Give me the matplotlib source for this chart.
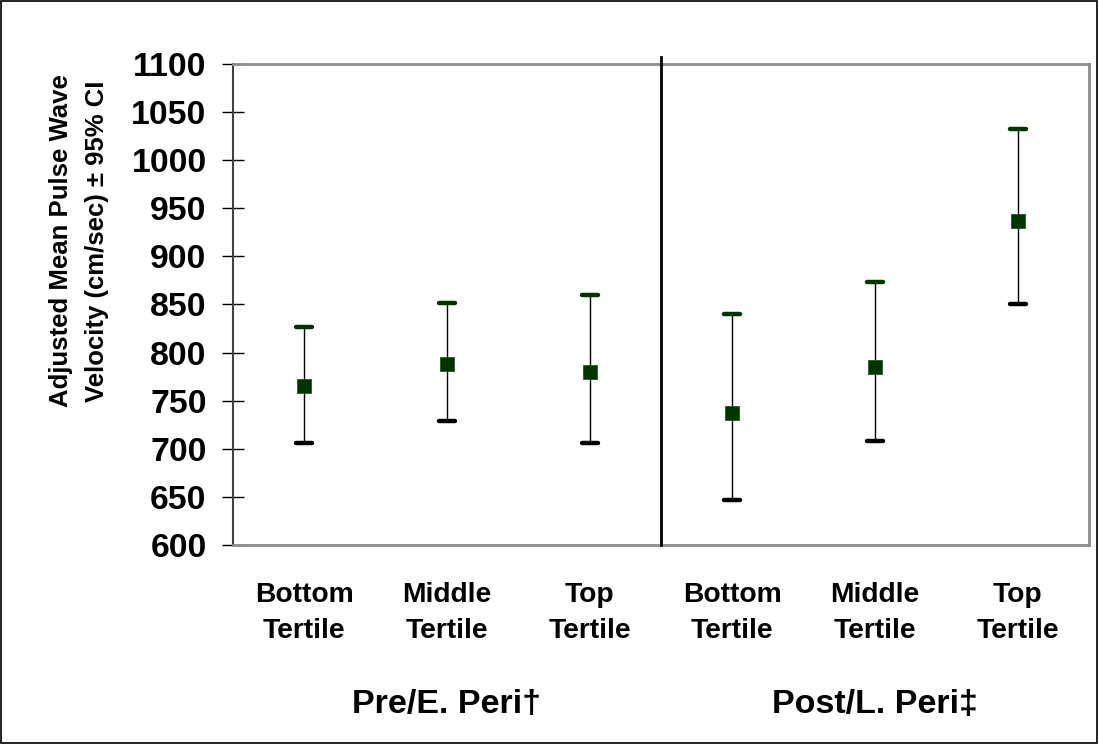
import matplotlib
matplotlib.use("Agg")
import matplotlib.pyplot as plt
from matplotlib import font_manager
from matplotlib.patches import Rectangle

plt.rcParams['font.family'] = ['Liberation Sans', 'DejaVu Sans']
plt.rcParams['font.weight'] = 'bold'

installed = {f.name for f in font_manager.fontManager.ttflist}
narrow = 'Liberation Sans Narrow' in installed
narrow_family = ['Liberation Sans Narrow', 'Liberation Sans', 'DejaVu Sans'] if narrow else ['Liberation Sans', 'DejaVu Sans']

categories = ["Bottom\nTertile", "Middle\nTertile", "Top\nTertile",
              "Bottom\nTertile", "Middle\nTertile", "Top\nTertile"]
groups = ["Pre/E. Peri\u2020", "Post/L. Peri\u2021"]
means = [765, 788, 780, 737, 785, 937]
upper = [827, 852, 860, 840, 873, 1032]
lower = [706, 729, 706, 647, 708, 850]
yticks = list(range(600, 1101, 50))

fig = plt.figure(figsize=(10.99, 7.44), dpi=100)
ax = fig.add_axes([233/1099, 1-545/744, (1089-233)/1099, (545-64)/744])

x = [i + 0.5 for i in range(len(means))]
err_lo = [m - l for m, l in zip(means, lower)]
err_hi = [u - m for m, u in zip(means, upper)]

ax.errorbar(x, means, yerr=[err_lo, err_hi], fmt='none',
            ecolor='black', elinewidth=1.0, capsize=0, zorder=3)
half = 0.056
ax.hlines(upper, [v - half for v in x], [v + half for v in x], colors='#003300',
          lw=3.2, capstyle='round', zorder=3.5)
ax.hlines(lower, [v - half for v in x], [v + half for v in x], colors='black',
          lw=3.2, capstyle='round', zorder=3.5)
ax.plot(x, means, 's', color='#003300', markersize=10, markeredgecolor='#2a542a',
        markeredgewidth=0.6, linestyle='none', zorder=4)

ax.set_xlim(0, 6)
ax.set_ylim(600, 1100)
ax.set_yticks(yticks)
ax.set_yticklabels([str(v) for v in yticks], fontsize=24.3, fontweight='bold')
ax.set_xticks(x)
ax.set_xticklabels(categories, fontsize=20.3, fontweight='bold', linespacing=1.5)
ax.tick_params(axis='x', length=0, pad=27)
ax.tick_params(axis='y', direction='inout', length=16, width=1.0, color='black', pad=11)

for s in ['top', 'right', 'bottom']:
    ax.spines[s].set_color('#8c8c8c')
    ax.spines[s].set_linewidth(2.0)
ax.spines['left'].set_color('#404040')
ax.spines['left'].set_linewidth(1.5)

ax.axvline(3, ymin=0, ymax=1.015, color='black', lw=2.0, clip_on=False, zorder=5)

gsize = 28 if narrow else 24.5
for gx, g in zip([1.5, 4.5], groups):
    ax.text(gx, -0.349, g, transform=ax.get_xaxis_transform(), ha='center',
            va='baseline', fontsize=gsize, fontweight='bold', family=narrow_family)

ysize = 21.5 if narrow else 18.5
fig.text(79/1099, 1-241/744, "Adjusted Mean Pulse Wave\nVelocity (cm/sec) \u00b1 95% CI",
         rotation=90, ha='center', va='center', fontsize=ysize, fontweight='bold',
         linespacing=1.6, multialignment='center', family=narrow_family)

fig.patches.append(Rectangle((0.0005, 0.0007), 0.998, 0.998, transform=fig.transFigure,
                             fill=False, edgecolor='black', lw=1.2))

fig.savefig("out.png", dpi=100)
